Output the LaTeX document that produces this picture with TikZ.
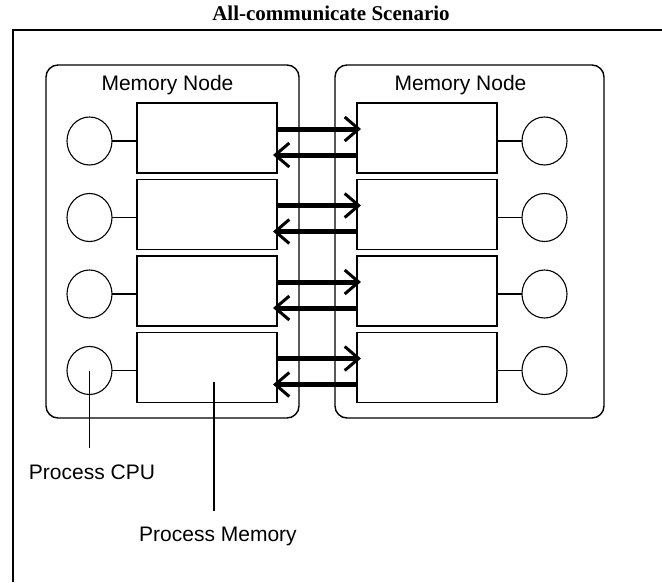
\documentclass[tikz,border=0pt]{standalone}
\usepackage{fontspec}
\setmainfont{Liberation Serif}
\setsansfont{Liberation Sans}
\usepackage{tikz}
\usetikzlibrary{positioning}
\usetikzlibrary{arrows.meta}
\usetikzlibrary{calc}
\usetikzlibrary{shapes.geometric}

\begin{document}
\begin{tikzpicture}[
    x=1pt, y=-1pt,
    memnode/.style={rectangle, rounded corners=12pt, draw=black, line width=1.4pt, minimum height=353pt, inner sep=0pt, outer sep=0pt},
    procmem/.style={rectangle, draw=black, line width=1.4pt, minimum width=140pt, minimum height=70pt, inner sep=0pt, outer sep=0pt},
    proccpu/.style={ellipse, draw=black, line width=1.1pt, minimum width=45pt, minimum height=48pt, inner sep=0pt, outer sep=0pt},
    lbl/.style={font=\sffamily\fontsize{21}{24}\selectfont, inner sep=0pt, outer sep=0pt},
    link/.style={line width=1.1pt},
    msg/.style={line width=5pt, -{Straight Barb[length=14pt, width=24pt, line width=3pt]}, shorten >=-4pt},
]
    \useasboundingbox (0,0) rectangle (662,582);

    \node[font=\bfseries\fontsize{21}{24}\selectfont] (T) at (331,13) {All-communicate Scenario};
    \draw[line width=2.2pt] (13,582) |- (662,30);

    \node[memnode, minimum width=253pt] (ML) at (172.5,241.5) {};
    \node[memnode, minimum width=269pt] (MR) at (469.5,241.5) {};

    \node[lbl] (TL) [below=10pt of ML.north, xshift=-5pt] {Memory Node};
    \node[lbl] (TR) [below=10pt of MR.north, xshift=-9pt] {Memory Node};

    \node[procmem] (PL1) at (207,138) {};
    \node[procmem] (PL2) [below=6.5pt of PL1] {};
    \node[procmem] (PL3) [below=6.5pt of PL2] {};
    \node[procmem] (PL4) [below=6.5pt of PL3] {};

    \node[procmem] (PR1) [right=80pt of PL1] {};
    \node[procmem] (PR2) [right=80pt of PL2] {};
    \node[procmem] (PR3) [right=80pt of PL3] {};
    \node[procmem] (PR4) [right=80pt of PL4] {};

    \node[proccpu] (CL1) [left=25pt of PL1, yshift=-3pt] {};
    \node[proccpu] (CL2) [left=25pt of PL2, yshift=-3pt] {};
    \node[proccpu] (CL3) [left=25pt of PL3, yshift=-3pt] {};
    \node[proccpu] (CL4) [left=25pt of PL4, yshift=-3pt] {};

    \node[proccpu] (CR1) [right=25pt of PR1, yshift=-3pt] {};
    \node[proccpu] (CR2) [right=25pt of PR2, yshift=-3pt] {};
    \node[proccpu] (CR3) [right=25pt of PR3, yshift=-3pt] {};
    \node[proccpu] (CR4) [right=25pt of PR4, yshift=-3pt] {};

    \draw[link] (CL1.east) -- (CL1.east -| PL1.west);
    \draw[link] (CL2.east) -- (CL2.east -| PL2.west);
    \draw[link] (CL3.east) -- (CL3.east -| PL3.west);
    \draw[link] (CL4.east) -- (CL4.east -| PL4.west);

    \draw[link] (CR1.west) -- (CR1.west -| PR1.east);
    \draw[link] (CR2.west) -- (CR2.west -| PR2.east);
    \draw[link] (CR3.west) -- (CR3.west -| PR3.east);
    \draw[link] (CR4.west) -- (CR4.west -| PR4.east);

    \draw[msg] ($(PL1.east)+(0,-9)$) -- ($(PR1.west)+(0,-9)$);
    \draw[msg] ($(PR1.west)+(0,17)$) -- ($(PL1.east)+(0,17)$);
    \draw[msg] ($(PL2.east)+(0,-9)$) -- ($(PR2.west)+(0,-9)$);
    \draw[msg] ($(PR2.west)+(0,17)$) -- ($(PL2.east)+(0,17)$);
    \draw[msg] ($(PL3.east)+(0,-9)$) -- ($(PR3.west)+(0,-9)$);
    \draw[msg] ($(PR3.west)+(0,17)$) -- ($(PL3.east)+(0,17)$);
    \draw[msg] ($(PL4.east)+(0,-9)$) -- ($(PR4.west)+(0,-9)$);
    \draw[msg] ($(PR4.west)+(0,17)$) -- ($(PL4.east)+(0,17)$);

    \node[lbl] (CPU) [below=94pt of CL4.center, xshift=2.5pt] {Process CPU};
    \draw[link, shorten >=17pt] (CL4.center) -- (CL4.center |- CPU.north);

    \coordinate (PM) at ($(PL4.center)+(7,14.5)$);
    \node[lbl] (MEM) [below=145pt of PM, xshift=4pt] {Process Memory};
    \draw[link, shorten >=16pt] (PM) -- (PM |- MEM.north);
\end{tikzpicture}
\end{document}
